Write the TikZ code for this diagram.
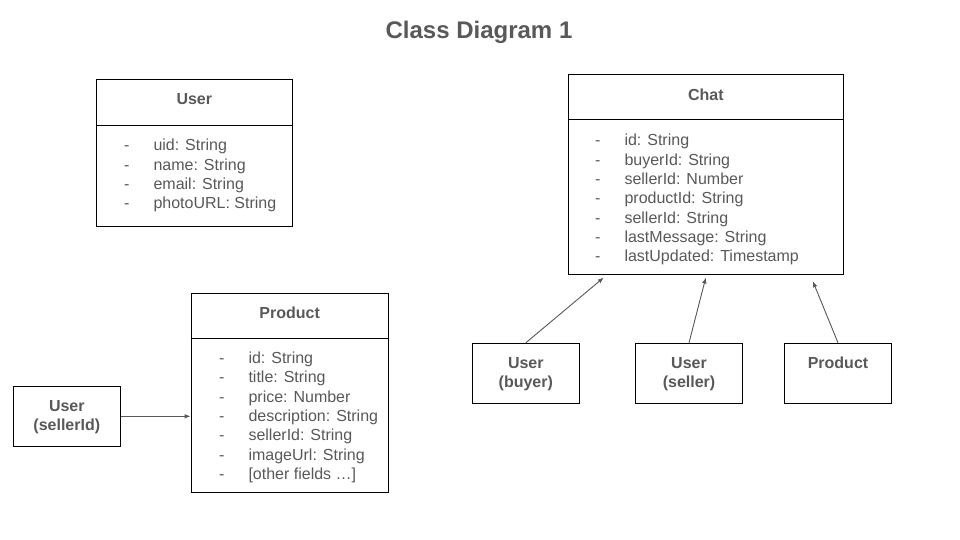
\documentclass[tikz,border=0pt]{standalone}
\usepackage{fontspec}
\setmainfont{Liberation Sans}
\usetikzlibrary{arrows.meta,calc}
\definecolor{txt}{HTML}{595959}
\definecolor{arr}{HTML}{595959}
\tikzset{
  cbox/.style={draw=black, line width=1pt, inner sep=0pt, fill=none},
  divider/.style={draw=black, line width=1pt},
  title/.style={inner sep=0pt, anchor=base, text=txt, font=\fontsize{24}{28}\selectfont\bfseries},
  header/.style={inner sep=0pt, anchor=base, text=txt, font=\fontsize{16}{19}\selectfont\bfseries},
  lbl/.style={inner sep=0pt, anchor=base, text=txt, font=\fontsize{16}{19}\selectfont\bfseries},
  items/.style={inner sep=0pt, anchor=base west, text=txt, font=\fontsize{16}{19.3}\selectfont},
  conn/.style={draw=arr, line width=0.9pt, -{Latex[length=6pt,width=4.6pt]}}
}
\newcommand{\itemlist}[1]{\begin{tabular}[t]{@{}l@{\hspace{24pt}}l@{}}#1\end{tabular}}
\begin{document}
\begin{tikzpicture}[x=1pt,y=-1pt]
\fill[white] (0,0) rectangle (960,540);
\useasboundingbox (0,0) rectangle (960,540);

\node[title] (ttl) at (479,39) {Class Diagram 1};

% User class
\node[cbox, minimum width=196.5pt, minimum height=147.3pt] (user) at (194.3,153) {};
\draw[divider] (user.west |- 0,125.3) -- (user.east |- 0,125.3);
\node[header] (userh) at (194.3,104.5) {User};
\node[items] (userl) at (124,151) {\itemlist{-&uid: String\\-&name: String\\-&email: String\\-&photoURL: String}};

% Chat class
\node[cbox, minimum width=275pt, minimum height=199pt] (chat) at (705.8,174.5) {};
\draw[divider] (chat.west |- 0,120) -- (chat.east |- 0,120);
\node[header] (chath) at (705.8,100.7) {Chat};
\node[items] (chatl) at (595,146) {\itemlist{-&id: String\\-&buyerId: String\\-&sellerId: Number\\-&productId: String\\-&sellerId: String\\-&lastMessage: String\\-&lastUpdated: Timestamp}};

% Product class
\node[cbox, minimum width=197.3pt, minimum height=199.4pt] (prod) at (289.7,393) {};
\draw[divider] (prod.west |- 0,338.3) -- (prod.east |- 0,338.3);
\node[header] (prodh) at (289.7,318.3) {Product};
\node[items] (prodl) at (219,363.5) {\itemlist{-&id: String\\-&title: String\\-&price: Number\\-&description: String\\-&sellerId: String\\-&imageUrl: String\\-&[other fields \ldots]}};

% small boxes
\node[cbox, minimum width=107pt, minimum height=59.5pt] (sid) at (66.8,416.3) {};
\node[lbl] (sidt) at (66.8,411.7) {\begin{tabular}[t]{@{}c@{}}User\\(sellerId)\end{tabular}};

\node[cbox, minimum width=107pt, minimum height=60pt] (buyer) at (525.8,373.3) {};
\node[lbl] (buyert) at (525.8,368) {\begin{tabular}[t]{@{}c@{}}User\\(buyer)\end{tabular}};

\node[cbox, minimum width=107.4pt, minimum height=60pt] (seller) at (689,373.3) {};
\node[lbl] (sellert) at (689,368) {\begin{tabular}[t]{@{}c@{}}User\\(seller)\end{tabular}};

\node[cbox, minimum width=107.4pt, minimum height=60pt] (psmall) at (838,373.3) {};
\node[lbl] (psmallt) at (838,368) {Product};

% connectors
\draw[conn] (sid.east) -- (sid.east -| prod.west);
\draw[conn] (buyer.north) -- ($(chat.south west)+(36,3)$);
\draw[conn] (seller.north) -- ($(chat.south)+(0,3)$);
\draw[conn] (psmall.north) -- ($(chat.south west)+(245,6.7)$);
\end{tikzpicture}
\end{document}
